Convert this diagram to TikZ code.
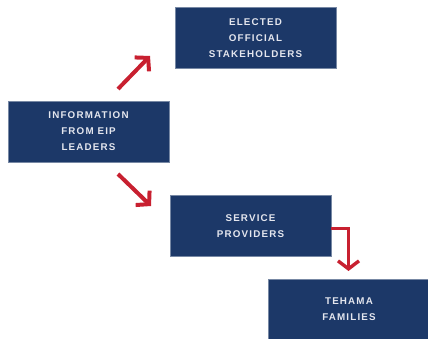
\documentclass[tikz,border=0pt]{standalone}
\usepackage{fontspec}
\setmainfont{Liberation Sans}
\newfontfamily\boxfont[LetterSpace=12]{Liberation Sans}
\usetikzlibrary{arrows.meta}
\definecolor{navy}{RGB}{28,56,104}
\definecolor{boxtext}{RGB}{228,230,238}
\definecolor{redarrow}{RGB}{200,32,48}
\tikzset{
  box/.style={draw=navy!60!white, line width=0.6pt, fill=navy, minimum width=161pt, minimum height=61pt,
    inner sep=0pt, align=center, text=boxtext, font=\boxfont\bfseries\fontsize{9.8}{16}\selectfont},
  redarr/.style={draw=redarrow, line width=4pt, -{Straight Barb[length=9pt,width=20pt,line width=4pt]}},
  redarrthin/.style={draw=redarrow, line width=3pt, -{Straight Barb[length=8pt,width=21pt,line width=3.4pt]}}
}
\begin{document}
\begin{tikzpicture}[x=1pt,y=-1pt]
\useasboundingbox (0,0) rectangle (428,339);
\node[box] (info) at (88.5,131.5) {INFORMATION\\FROM EIP\\LEADERS};
\node[box] (elected) at (255.5,38) {ELECTED\\OFFICIAL\\STAKEHOLDERS};
\node[box] (service) at (250.5,226) {SERVICE\\PROVIDERS};
\node[box, minimum width=162pt] (tehama) at (349,309.5) {TEHAMA\\FAMILIES};
\coordinate (a1s) at (118,89);
\coordinate (a1e) at (150,56);
\coordinate (a2s) at (118,174);
\coordinate (a2e) at (151,206);
\draw[redarr] (a1s) -- (a1e);
\draw[redarr] (a2s) -- (a2e);
\coordinate (bend) at (348.5,228);
\coordinate (a3e) at (348.5,271);
\draw[redarrthin] (service.east |- bend) -- (bend) -- (a3e);
\end{tikzpicture}
\end{document}
